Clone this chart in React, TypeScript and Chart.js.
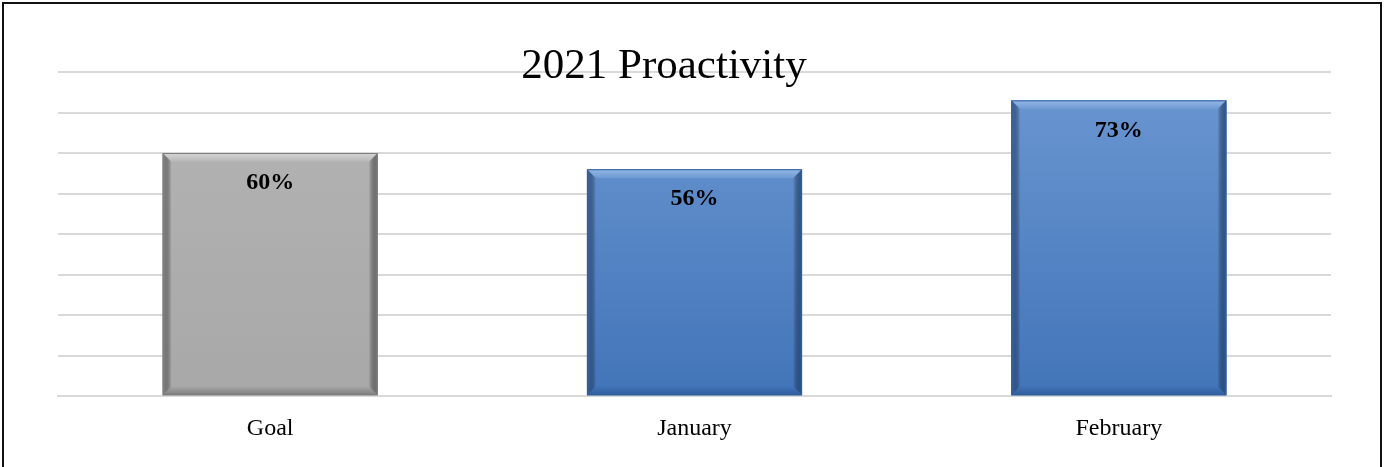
import React, { useEffect, useRef } from "react";
import { Chart, registerables } from "chart.js";

Chart.register(...registerables);

const categories: string[] = ["Goal", "January", "February"];
const values: number[] = [0.6, 0.56, 0.73];
const valueLabels: string[] = ["60%", "56%", "73%"];
const chartTitle = "2021 Proactivity";
const yMin = 0;
const yMax = 0.8;
const yStep = 0.1;

const palettes = [
  { top: "#b4b4b4", bottom: "#a8a8a8", light: "#d8d8d8", dark: "#7c7c7c", side: "#8e8e8e" },
  { top: "#6c98d2", bottom: "#4274b9", light: "#96b8e6", dark: "#2f5e9c", side: "#3e6cab" },
  { top: "#6c98d2", bottom: "#4274b9", light: "#96b8e6", dark: "#2f5e9c", side: "#3e6cab" },
];

const titlePlugin = {
  id: "floatTitle",
  afterDraw(chart: any) {
    const ctx = chart.ctx;
    ctx.save();
    ctx.font = "43px 'Liberation Serif', 'Times New Roman', serif";
    ctx.fillStyle = "#000";
    ctx.textAlign = "center";
    ctx.textBaseline = "alphabetic";
    ctx.fillText(chartTitle, 664, 78);
    ctx.restore();
  },
};

const bevelPlugin = {
  id: "bevel",
  afterDatasetsDraw(chart: any) {
    const ctx = chart.ctx;
    const meta = chart.getDatasetMeta(0);
    meta.data.forEach((bar: any, i: number) => {
      const p = palettes[i];
      const w = bar.width;
      const l = bar.x - w / 2;
      const r = bar.x + w / 2;
      const t = bar.y;
      const b = bar.base;
      const bv = 9;
      ctx.save();
      let g = ctx.createLinearGradient(0, t, 0, t + bv);
      g.addColorStop(0, p.light);
      g.addColorStop(1, p.top);
      ctx.fillStyle = g;
      ctx.beginPath();
      ctx.moveTo(l, t);
      ctx.lineTo(r, t);
      ctx.lineTo(r - bv, t + bv);
      ctx.lineTo(l + bv, t + bv);
      ctx.closePath();
      ctx.fill();
      g = ctx.createLinearGradient(0, b - bv, 0, b);
      g.addColorStop(0, p.bottom);
      g.addColorStop(1, p.dark);
      ctx.fillStyle = g;
      ctx.beginPath();
      ctx.moveTo(l, b);
      ctx.lineTo(r, b);
      ctx.lineTo(r - bv, b - bv);
      ctx.lineTo(l + bv, b - bv);
      ctx.closePath();
      ctx.fill();
      g = ctx.createLinearGradient(l, 0, l + bv, 0);
      g.addColorStop(0, p.side);
      g.addColorStop(1, "rgba(0,0,0,0)");
      ctx.fillStyle = g;
      ctx.beginPath();
      ctx.moveTo(l, t);
      ctx.lineTo(l + bv, t + bv);
      ctx.lineTo(l + bv, b - bv);
      ctx.lineTo(l, b);
      ctx.closePath();
      ctx.fill();
      g = ctx.createLinearGradient(r, 0, r - bv, 0);
      g.addColorStop(0, p.dark);
      g.addColorStop(1, "rgba(0,0,0,0)");
      ctx.fillStyle = g;
      ctx.beginPath();
      ctx.moveTo(r, t);
      ctx.lineTo(r - bv, t + bv);
      ctx.lineTo(r - bv, b - bv);
      ctx.lineTo(r, b);
      ctx.closePath();
      ctx.fill();
      ctx.strokeStyle = p.dark;
      ctx.lineWidth = 1;
      ctx.strokeRect(l + 0.5, t + 0.5, w - 1, b - t - 1);
      ctx.fillStyle = "#000";
      ctx.font = "bold 24px 'Liberation Serif', 'Times New Roman', serif";
      ctx.textAlign = "center";
      ctx.textBaseline = "middle";
      ctx.fillText(valueLabels[i], bar.x, t + 30);
      ctx.restore();
    });
  },
};

export default function App() {
  const ref = useRef<HTMLCanvasElement | null>(null);

  useEffect(() => {
    if (!ref.current) return;
    const chart = new Chart(ref.current, {
      type: "bar",
      data: {
        labels: categories,
        datasets: [
          {
            data: values,
            backgroundColor: (c: any) => {
              const i = c.dataIndex;
              const p = palettes[i] || palettes[1];
              const area = c.chart.chartArea;
              if (!area) return p.top;
              const g = c.chart.ctx.createLinearGradient(0, area.top, 0, area.bottom);
              g.addColorStop(0, p.top);
              g.addColorStop(1, p.bottom);
              return g;
            },
            borderWidth: 0,
            categoryPercentage: 1,
            barPercentage: 0.507,
          },
        ],
      },
      options: {
        responsive: false,
        animation: false,
        layout: { padding: { left: 58, right: 53, top: 72, bottom: 6 } },
        plugins: {
          legend: { display: false },
          tooltip: { enabled: false },
          title: { display: false },
        },
        scales: {
          x: {
            grid: { display: false, drawTicks: false },
            border: { display: true, color: "#d9d9d9", width: 2 },
            ticks: {
              color: "#000",
              padding: 18,
              font: { family: "'Liberation Serif', 'Times New Roman', serif", size: 24 },
            },
          },
          y: {
            min: yMin,
            max: yMax,
            ticks: { display: false, stepSize: yStep },
            grid: { color: "#d9d9d9", lineWidth: 2, drawTicks: false },
            border: { display: false },
          },
        },
      },
      plugins: [bevelPlugin, titlePlugin],
    });
    return () => chart.destroy();
  }, []);

  return (
    <div style={{ position: "absolute", left: 0, top: 0, width: 1384, height: 467, background: "#fff", overflow: "hidden" }}>
      <canvas ref={ref} width={1384} height={467} style={{ position: "absolute", left: 0, top: 0 }} />
      <div
        style={{
          position: "absolute",
          left: 2,
          top: 2,
          width: 1376,
          height: 500,
          border: "2px solid #111",
          pointerEvents: "none",
        }}
      />
    </div>
  );
}
